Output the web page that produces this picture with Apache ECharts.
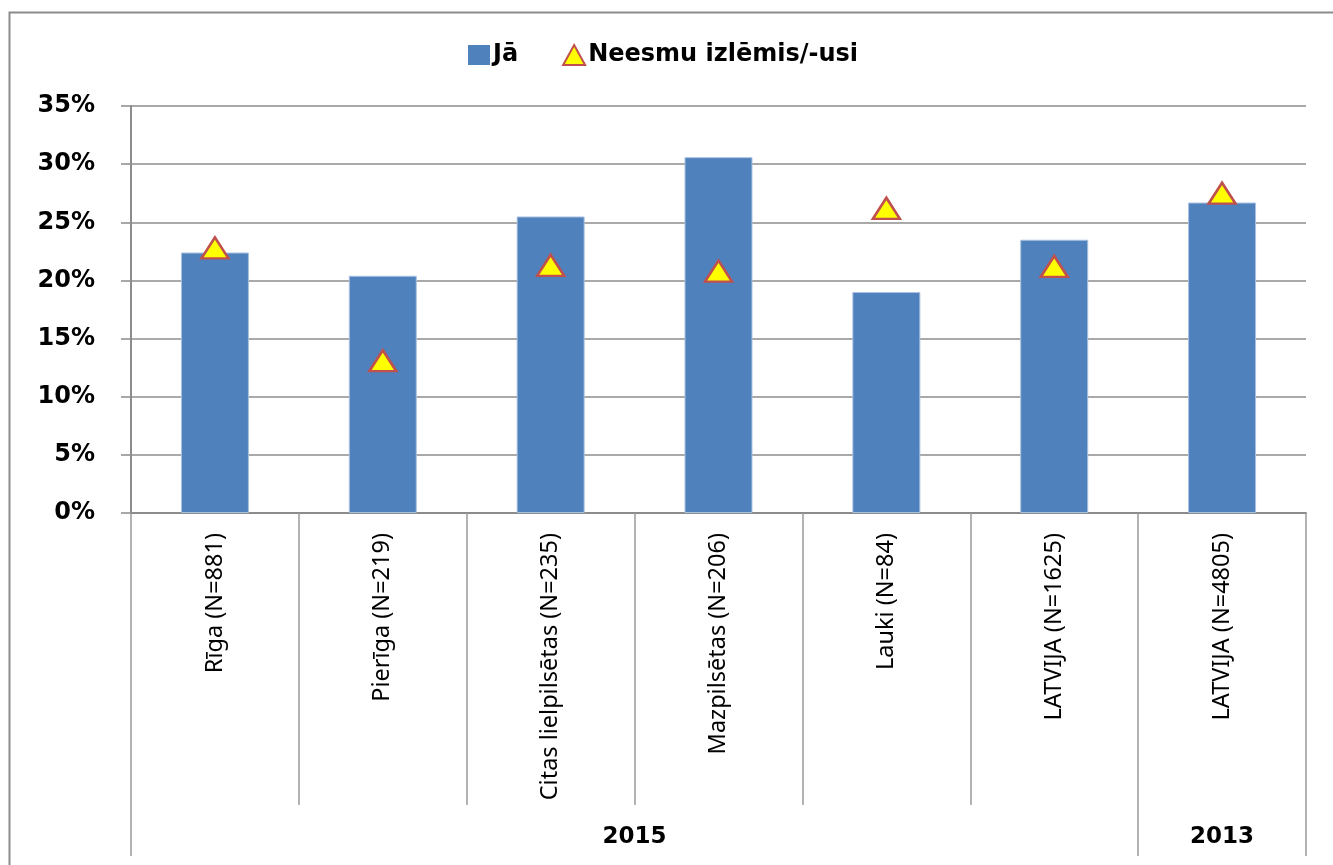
<!DOCTYPE html>
<html>
<head>
<meta charset="utf-8">
<script src="https://cdn.jsdelivr.net/npm/echarts@6/dist/echarts.min.js"></script>
<style>
html,body{margin:0;padding:0;background:#fff;}
#chart{width:1333px;height:865px;}
</style>
</head>
<body>
<div id="chart"></div>
<script>
const categories = ['Rīga (N=881)', 'Pierīga (N=219)', 'Citas lielpilsētas (N=235)', 'Mazpilsētas (N=206)', 'Lauki (N=84)', 'LATVIJA (N=1625)', 'LATVIJA (N=4805)'];
const jaValues = [22.4, 20.4, 25.5, 30.6, 19.0, 23.5, 26.7];
const neesmuValues = [22.8, 13.1, 21.3, 20.8, 26.2, 21.2, 27.5];
const groupLabels = ['2015', '2013'];
const groupSpans = [6, 1];
const seriesNames = ['Jā', 'Neesmu izlēmis/-usi'];
const yTicks = [0, 5, 10, 15, 20, 25, 30, 35];

// group boundaries and centres (in category units)
const groupEdges = [0];
groupSpans.forEach(s => groupEdges.push(groupEdges[groupEdges.length - 1] + s));
const groupCenters = groupSpans.map((s, i) => groupEdges[i] + s / 2);

const chart = echarts.init(document.getElementById('chart'));
const boldFont = 'DejaVu Sans';
chart.setOption({
  animation: false,
  backgroundColor: '#fff',
  graphic: [{
    type: 'rect', left: 7, top: 10,
    shape: { width: 1400, height: 900 },
    style: { fill: 'none', stroke: '#8c8c8c', lineWidth: 2 }, silent: true
  }],
  legend: {
    top: 38, left: 463,
    itemGap: 44, itemWidth: 22, itemHeight: 20,
    textStyle: { fontFamily: boldFont, fontWeight: 'bold', fontSize: 24, color: '#000', padding: [0, 0, 0, -2] },
    data: [
      { name: seriesNames[0], icon: 'rect', itemStyle: { color: '#4f81bd', borderWidth: 0 } },
      { name: seriesNames[1], icon: 'triangle' }
    ]
  },
  grid: { left: 131, right: 27, top: 106, bottom: 352, containLabel: false },
  xAxis: [{
    type: 'category',
    data: categories,
    boundaryGap: true,
    axisLine: { show: true, lineStyle: { color: '#8c8c8c', width: 2 } },
    axisTick: { show: true, length: 292, interval: 0, lineStyle: { color: '#9a9a9a', width: 1.5 } },
    axisLabel: { rotate: 90, margin: 20, interval: 0, fontFamily: 'Noto Sans', fontSize: 23.5, color: '#000' },
    splitLine: { show: false }
  }, {
    type: 'value',
    min: 0, max: categories.length,
    position: 'bottom',
    offset: 343,
    axisLine: { show: false },
    axisTick: { show: true, inside: true, length: 343, customValues: groupEdges, lineStyle: { color: '#9a9a9a', width: 1.5 } },
    axisLabel: {
      show: true, inside: true, margin: 7,
      customValues: groupCenters,
      formatter: v => { const i = groupCenters.indexOf(v); return i >= 0 ? groupLabels[i] : ''; },
      fontFamily: boldFont, fontWeight: 'bold', fontSize: 23, color: '#000'
    },
    splitLine: { show: false }
  }],
  yAxis: {
    type: 'value', min: yTicks[0], max: yTicks[yTicks.length - 1], interval: 5,
    axisLine: { show: true, lineStyle: { color: '#8c8c8c', width: 2 } },
    axisTick: { show: true, length: 10, lineStyle: { color: '#8c8c8c', width: 1.5 } },
    axisLabel: { margin: 36, formatter: '{value}%', fontFamily: boldFont, fontWeight: 'bold', fontSize: 24, color: '#000' },
    splitLine: { show: true, lineStyle: { color: '#8c8c8c', width: 1.5 } }
  },
  series: [{
    name: seriesNames[0], type: 'bar', xAxisIndex: 0,
    data: jaValues, barWidth: '40.5%',
    itemStyle: { color: '#4f81bd', borderColor: '#a9c1e0', borderWidth: 1 }
  }, {
    name: seriesNames[1], type: 'scatter', xAxisIndex: 0,
    data: neesmuValues, symbol: 'triangle', symbolSize: [27, 21],
    itemStyle: { color: '#ffff00', borderColor: '#c0504d', borderWidth: 2.5, opacity: 1 },
    z: 5
  }]
});
</script>
</body>
</html>
